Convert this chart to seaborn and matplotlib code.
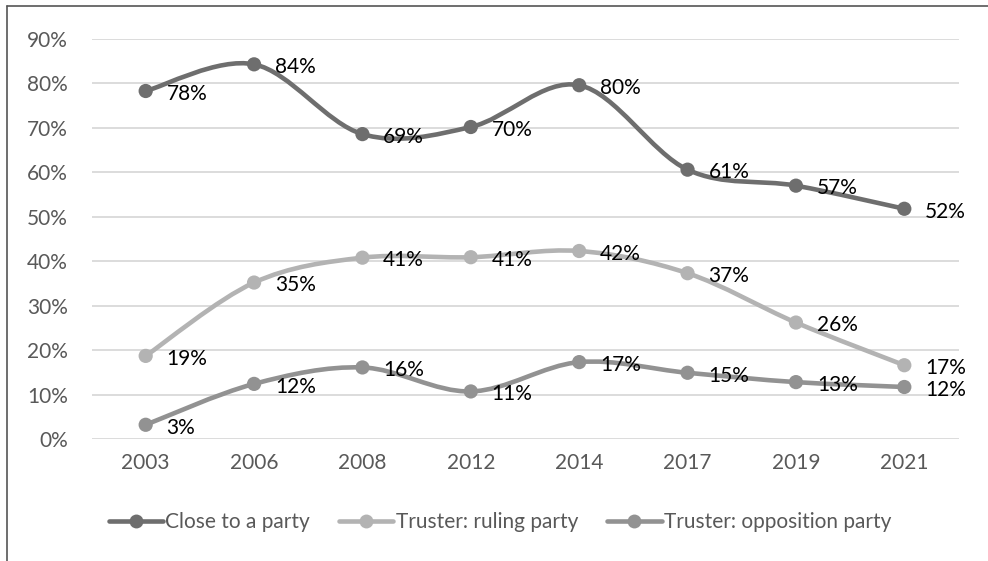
import numpy as np
import pandas as pd
import matplotlib
matplotlib.use('Agg')
import matplotlib.pyplot as plt
from matplotlib.path import Path
from matplotlib.patches import PathPatch
from matplotlib.lines import Line2D
import seaborn as sns

# data (shares, 0-1)
years = ['2003', '2006', '2008', '2012', '2014', '2017', '2019', '2021']
close_to_party = [0.783, 0.843, 0.686, 0.702, 0.796, 0.606, 0.570, 0.518]
truster_ruling = [0.187, 0.352, 0.408, 0.409, 0.423, 0.373, 0.262, 0.166]
truster_opposition = [0.032, 0.124, 0.161, 0.107, 0.173, 0.149, 0.128, 0.117]
series_names = ['Close to a party', 'Truster: ruling party', 'Truster: opposition party']
series_colors = ['#6e6e6e', '#b3b3b3', '#929292']

sns.set_theme(style='white')
plt.rcParams['font.family'] = ['Lato', 'DejaVu Sans']

df = pd.DataFrame({
    'year': years * 3,
    'pos': list(range(len(years))) * 3,
    'value': close_to_party + truster_ruling + truster_opposition,
    'series': [n for n in series_names for _ in years],
})

fig = plt.figure(figsize=(9.88, 5.61), dpi=100)
ax = fig.add_axes([91.5 / 988, 122 / 561, 867 / 988, 400 / 561])


def smooth_path(xs, ys):
    # Excel-style smoothed line: cubic bezier segments with catmull-rom control points
    pts = np.column_stack([xs, ys]).astype(float)
    n = len(pts)
    verts = [pts[0]]
    codes = [Path.MOVETO]
    for i in range(n - 1):
        p0 = pts[max(i - 1, 0)]
        p1 = pts[i]
        p2 = pts[i + 1]
        p3 = pts[min(i + 2, n - 1)]
        c1 = p1 + (p2 - p0) / 6.0
        c2 = p2 - (p3 - p1) / 6.0
        verts += [c1, c2, p2]
        codes += [Path.CURVE4] * 3
    return Path(verts, codes)


for k, (name, color) in enumerate(zip(series_names, series_colors)):
    sub = df[df['series'] == name]
    patch = PathPatch(smooth_path(sub['pos'], sub['value']), facecolor='none',
                      edgecolor=color, lw=3.3, capstyle='round', zorder=3 + k)
    ax.add_patch(patch)
    sns.scatterplot(data=sub, x='pos', y='value', color=color, s=105,
                    edgecolor='none', ax=ax, legend=False, zorder=3 + k)

for k, name in enumerate(series_names):
    sub = df[df['series'] == name]
    for x, v in zip(sub['pos'], sub['value']):
        ax.annotate(f'{round(v * 100):d}%', (x, v), xytext=(15, -2),
                    textcoords='offset points', ha='left', va='center',
                    fontsize=15, color='#000000', zorder=10)

ax.set_xlim(-0.5, len(years) - 0.5)
ax.set_ylim(0, 0.9)
ax.set_xticks(range(len(years)))
ax.set_xticklabels(years)
ax.set_yticks(np.arange(0, 0.91, 0.1))
ax.set_yticklabels([f'{int(round(t * 100))}%' for t in np.arange(0, 0.91, 0.1)])
ax.tick_params(axis='both', length=0, labelsize=15, labelcolor='#595959')
ax.tick_params(axis='y', pad=17)
ax.tick_params(axis='x', pad=10)
ax.set_xlabel('')
ax.set_ylabel('')
ax.grid(axis='y', color='#d9d9d9', lw=1.3)
ax.set_axisbelow(True)
for s in ax.spines.values():
    s.set_visible(False)

handles = [Line2D([0], [0], color=c, lw=3.3, marker='o', markersize=10,
                  markeredgewidth=0) for c in series_colors]
leg = fig.legend(handles, series_names, loc='center', bbox_to_anchor=(500 / 988, 39 / 561),
                 ncol=3, frameon=False, fontsize=15, handlelength=2.6,
                 handletextpad=0.12, columnspacing=1.4)
for t in leg.get_texts():
    t.set_color('#595959')

# outer chart frame (left and top edges visible in the crop)
fig.add_artist(Line2D([7 / 988, 7 / 988], [0, 1 - 6 / 561], color='#555555', lw=1.2))
fig.add_artist(Line2D([7 / 988, 1], [1 - 6 / 561, 1 - 6 / 561], color='#555555', lw=1.2))

fig.savefig('out.png', dpi=100)
